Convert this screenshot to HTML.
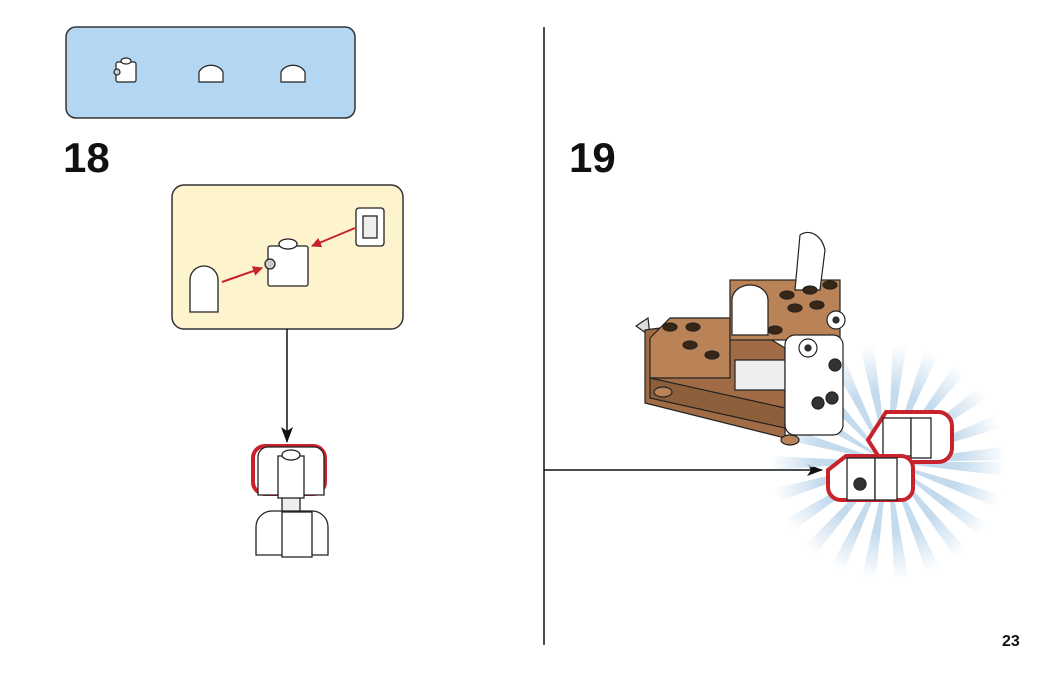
<!DOCTYPE html>
<html><head><meta charset="utf-8"><style>
html,body{margin:0;padding:0;background:#fff;}
svg{display:block}
text{font-family:"Liberation Sans",sans-serif;font-weight:bold;fill:#111}
</style></head><body>
<svg width="1050" height="673" viewBox="0 0 1050 673">
<defs>
<radialGradient id="fade" gradientUnits="userSpaceOnUse" cx="888" cy="462" r="118">
<stop offset="0.2" stop-color="#fff"/>
<stop offset="0.6" stop-color="#fff"/>
<stop offset="1" stop-color="#000"/>
</radialGradient>
<mask id="m" maskUnits="userSpaceOnUse" x="0" y="0" width="1050" height="673"><circle cx="888" cy="462" r="118" fill="url(#fade)"/></mask>
<marker id="ah" markerWidth="16" markerHeight="12" refX="15" refY="6" orient="auto" markerUnits="userSpaceOnUse" viewBox="0 0 16 12"><path d="M0,0 L16,6 L0,12 L4,6 z" fill="#111"/></marker>
<marker id="rh" markerWidth="10" markerHeight="10" refX="9" refY="5" orient="auto" markerUnits="userSpaceOnUse" viewBox="0 0 10 10"><path d="M0,0 L10,5 L0,10 z" fill="#c8232c"/></marker>
</defs>

<rect x="66" y="27" width="289" height="91" rx="10" fill="#b3d7f2" stroke="#333" stroke-width="1.5"/>
<g stroke="#222" stroke-width="1.2" fill="#fff">
<rect x="116" y="62" width="20" height="20" rx="2"/><ellipse cx="126" cy="61" rx="5" ry="3"/><circle cx="117" cy="72" r="3" fill="#ccc"/>
<path d="M199,82 v-10 a13,11 0 0 1 24,0 v10 z"/>
<path d="M281,82 v-10 a13,11 0 0 1 24,0 v10 z"/>
</g>

<text x="63" y="172" font-size="42">18</text>
<text x="569" y="172" font-size="42">19</text>
<text x="1002" y="646" font-size="16">23</text>

<rect x="172" y="185" width="231" height="144" rx="12" fill="#fdf3cc" stroke="#333" stroke-width="1.5"/>
<line x1="222" y1="282" x2="262" y2="268" stroke="#c8232c" stroke-width="2" marker-end="url(#rh)"/>
<line x1="355" y1="228" x2="312" y2="246" stroke="#c8232c" stroke-width="2" marker-end="url(#rh)"/>
<g stroke="#222" stroke-width="1.3" fill="#fff">
<rect x="268" y="246" width="40" height="40" rx="2"/>
<ellipse cx="288" cy="244" rx="9" ry="5"/>
<circle cx="270" cy="264" r="5" fill="#ccc"/>
<path d="M190,312 v-32 a14,14 0 0 1 28,0 v32 z"/>
<rect x="356" y="208" width="28" height="38" rx="3"/>
<rect x="363" y="216" width="14" height="22" fill="#eee"/>
</g>

<line x1="287" y1="329" x2="287" y2="442" stroke="#111" stroke-width="1.5" marker-end="url(#ah)"/>

<g stroke="#222" stroke-width="1.3" fill="#fff">
<rect x="282" y="495" width="18" height="30" fill="#eee"/>
<path d="M256,555 v-28 a16,16 0 0 1 16,-16 h40 a16,16 0 0 1 16,16 v28 z"/>
<rect x="282" y="512" width="30" height="45"/>
<rect x="253" y="446" width="72" height="48" rx="12" fill="#fff" stroke="#c8232c" stroke-width="4"/>
<path d="M258,495 v-38 a10,10 0 0 1 10,-10 h46 a10,10 0 0 1 10,10 v38 z"/>
<rect x="278" y="456" width="26" height="42"/>
<ellipse cx="291" cy="455" rx="9" ry="5"/>
</g>

<line x1="544" y1="27" x2="544" y2="645" stroke="#111" stroke-width="1.5"/>
<line x1="544" y1="470" x2="822" y2="470" stroke="#111" stroke-width="1.5" marker-end="url(#ah)"/>

<g mask="url(#m)">
<circle cx="888" cy="462" r="68" fill="none" stroke="#c4dbee" stroke-width="100" stroke-dasharray="8 11"/>
</g>

<g stroke="#222" stroke-width="1.2">
<path d="M648,318 l-12,8 l14,10 z" fill="#ddd"/>
<path d="M645,330 l90,-12 l50,30 l0,90 l-140,-35 z" fill="#a06b45"/>
<path d="M650,378 l135,30 v20 l-135,-30 z" fill="#8e5f3b"/>
<path d="M650,338 l20,-20 l60,0 l0,60 l-80,0 z" fill="#b98257"/>
<rect x="730" y="280" width="110" height="60" fill="#b98257"/>
<path d="M800,235 a18,25 0 0 1 25,15 l-5,40 l-25,0 z" fill="#fff"/>
<path d="M732,300 a18,15 0 0 1 36,0 v35 h-36 z" fill="#fff"/>
<path d="M735,360 h50 v30 h-50 z" fill="#eee"/>
<rect x="785" y="335" width="58" height="100" rx="10" fill="#fff"/>
<g fill="#3a2614">
<ellipse cx="670" cy="327" rx="7" ry="4"/><ellipse cx="693" cy="327" rx="7" ry="4"/>
<ellipse cx="690" cy="345" rx="7" ry="4"/><ellipse cx="712" cy="355" rx="7" ry="4"/>
<ellipse cx="787" cy="295" rx="7" ry="4"/><ellipse cx="810" cy="290" rx="7" ry="4"/>
<ellipse cx="830" cy="285" rx="7" ry="4"/><ellipse cx="795" cy="308" rx="7" ry="4"/>
<ellipse cx="817" cy="305" rx="7" ry="4"/><ellipse cx="775" cy="330" rx="7" ry="4"/>
</g>
<circle cx="808" cy="348" r="9" fill="#fff"/><circle cx="808" cy="348" r="3" fill="#333"/>
<circle cx="836" cy="320" r="9" fill="#fff"/><circle cx="836" cy="320" r="3" fill="#333"/>
<circle cx="835" cy="365" r="6" fill="#333"/>
<circle cx="818" cy="403" r="6" fill="#333"/><circle cx="832" cy="398" r="6" fill="#333"/>
<ellipse cx="663" cy="392" rx="9" ry="5" fill="#b98257"/>
<ellipse cx="790" cy="440" rx="9" ry="5" fill="#b98257"/>
</g>

<g stroke="#222" stroke-width="1.3" fill="#fff">
<path d="M868,440 l18,-28 h52 a14,14 0 0 1 14,14 v22 a14,14 0 0 1 -14,14 h-56 z" stroke="#c8232c" stroke-width="4"/>
<rect x="883" y="418" width="28" height="38"/>
<rect x="911" y="418" width="20" height="40"/>
<path d="M828,470 l18,-14 h55 a12,12 0 0 1 12,12 v20 a12,12 0 0 1 -12,12 h-60 a13,13 0 0 1 -13,-13 z" stroke="#c8232c" stroke-width="4"/>
<rect x="847" y="458" width="28" height="42"/>
<rect x="875" y="458" width="22" height="42"/>
<circle cx="860" cy="484" r="6" fill="#333"/>
</g>
</svg>
</body></html>
